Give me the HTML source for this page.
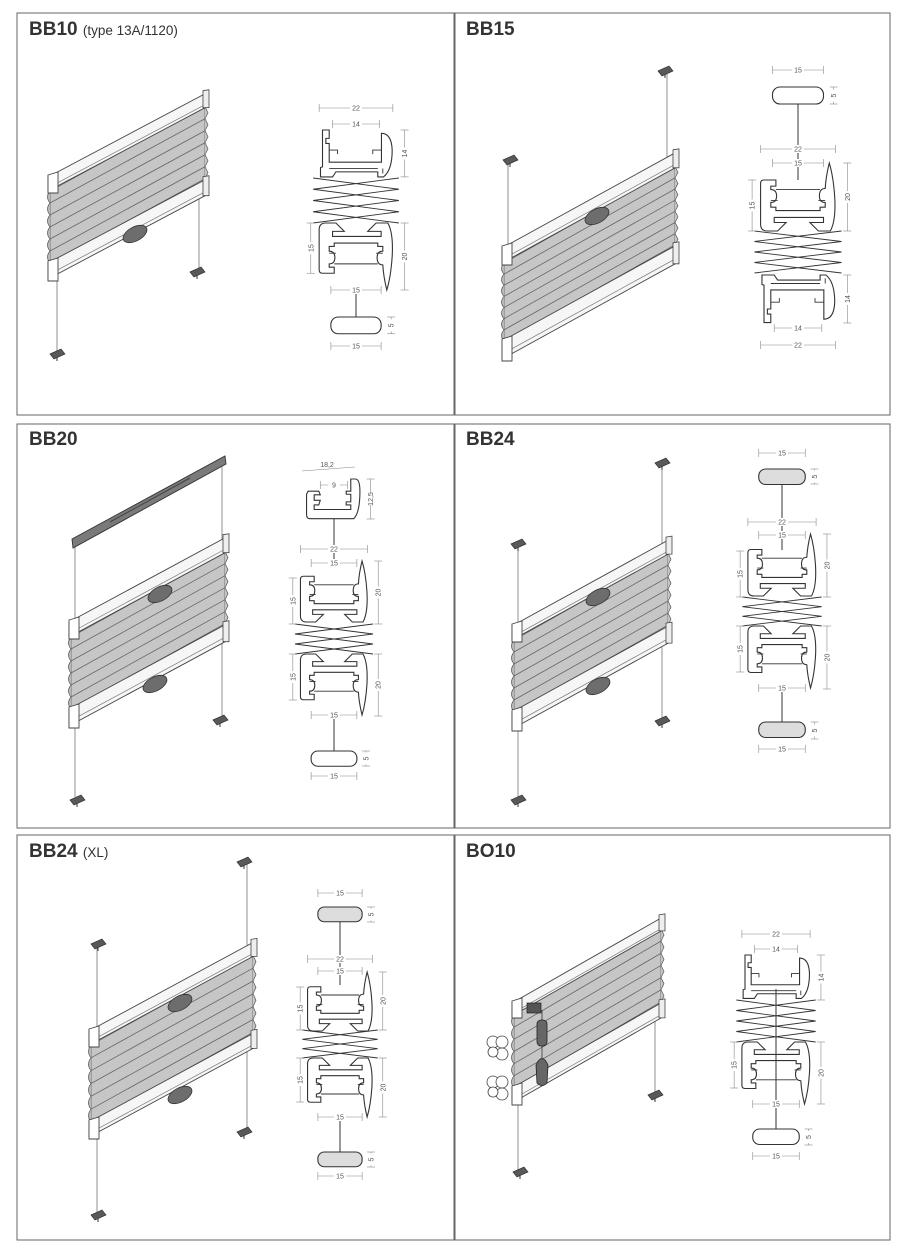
<!DOCTYPE html>
<html><head><meta charset="utf-8"><style>
html,body{margin:0;padding:0;background:#fff;}
#c{position:relative;width:903px;height:1252px;overflow:hidden;}
.t{position:absolute;font-family:"Liberation Sans",sans-serif;color:#333;font-weight:bold;font-size:19px;}
.t span{font-weight:normal;font-size:13.5px;}
svg{position:absolute;left:0;top:0;}
</style></head><body><div id="c">
<svg id="s" width="903" height="1252" viewBox="0 0 903 1252" xmlns="http://www.w3.org/2000/svg"></svg>
<div class="t" style="left:29px;top:19px">BB10 <span>(type 13A/1120)</span></div>
<div class="t" style="left:466px;top:19px">BB15</div>
<div class="t" style="left:29px;top:429px">BB20</div>
<div class="t" style="left:466px;top:429px">BB24</div>
<div class="t" style="left:29px;top:841px">BB24 <span>(XL)</span></div>
<div class="t" style="left:466px;top:841px">BO10</div>
</div>
<script>
var out=[];
function a(x){out.push(x);}
[[17,13,437,402],[455,13,435,402],[17,424,437,404],[455,424,435,404],[17,835,437,405],[455,835,435,405]].forEach(function(r){
a('<rect x="'+r[0]+'" y="'+r[1]+'" width="'+r[2]+'" height="'+r[3]+'" fill="none" stroke="#666" stroke-width="1"/>');});
function P(pts){return pts.map(function(p){return p[0].toFixed(1)+','+p[1].toFixed(1)}).join(' ');}
function rail(L,R,m,y,h,fill){var W=R-L;fill=fill||'#f6f6f6';
 a('<polygon points="'+P([[L,y],[R,y+m*W],[R,y+m*W+h],[L,y+h]])+'" fill="'+fill+'" stroke="#444" stroke-width="0.9"/>');
 a('<line x1="'+(L+6)+'" y1="'+(y+h*0.55)+'" x2="'+(R-2)+'" y2="'+(y+h*0.55+m*(W-8))+'" stroke="#777" stroke-width="0.7"/>');
 a('<polygon points="'+P([[L,y-2],[L+10,y-5],[L+10,y+h+2],[L,y+h+2]])+'" fill="#fff" stroke="#444" stroke-width="0.9"/>');
 a('<polygon points="'+P([[R-4,y+m*W-2],[R+2,y+m*W-3],[R+2,y+m*W+h+1],[R-4,y+m*W+h+1]])+'" fill="#eee" stroke="#444" stroke-width="0.8"/>');}
function fabric(L,R,m,y1,y2){var W=R-L;
 a('<polygon points="'+P([[L+2,y1],[R-2,y1+m*W],[R-2,y2+m*W],[L+2,y2]])+'" fill="#c6c6c6" stroke="#555" stroke-width="0.7"/>');
 var k=Math.max(2,Math.round((y2-y1)/12)),st=(y2-y1)/k,d='';
 for(var i=1;i<k;i++){var y=y1+st*i;a('<line x1="'+(L+2)+'" y1="'+y+'" x2="'+(R-2)+'" y2="'+(y+m*W)+'" stroke="#666" stroke-width="0.8"/>');}
 d='M'+(L+2)+','+y1;for(i=0;i<k;i++){d+=' Q'+(L-3)+','+(y1+st*(i+0.5))+' '+(L+2)+','+(y1+st*(i+1));}
 a('<path d="'+d+'" fill="#b8b8b8" stroke="#555" stroke-width="0.7"/>');
 d='M'+(R-2)+','+(y1+m*W);for(i=0;i<k;i++){d+=' L'+(R+1)+','+(y1+m*W+st*(i+0.5))+' L'+(R-2)+','+(y1+m*W+st*(i+1));}
 a('<path d="'+d+'" fill="#c6c6c6" stroke="#555" stroke-width="0.7"/>');}
function handle(x,y){a('<ellipse cx="'+x+'" cy="'+y+'" rx="13" ry="7" transform="rotate(-28 '+x+' '+y+')" fill="#6d6d6d" stroke="#333" stroke-width="0.8"/>');}
function clip(x,y){a('<polygon points="'+P([[x-7,y],[x+4,y-5],[x+8,y],[x-3,y+5]])+'" fill="#595959" stroke="#333" stroke-width="0.7"/><line x1="'+x+'" y1="'+(y+3)+'" x2="'+x+'" y2="'+(y+7)+'" stroke="#333"/>');}
function cord(x,y1,y2){a('<line x1="'+x+'" y1="'+y1+'" x2="'+x+'" y2="'+y2+'" stroke="#777" stroke-width="0.8"/>');}
var BOT='M -9 0 H -6 L -3.5 2.5 H -7 V 4 H 7.5 V 2.5 H 3.5 L 6 0 H 9.5 Q 11.2 3 10.8 10 Q 10.4 16 9.2 20 Q 8.2 16 8 12.5 Q 6.3 12.5 6.3 10.3 Q 6.3 8.4 8 8.4 V 7 H 6.5 V 6 H -6.5 V 7 H -8 V 8.4 Q -6.3 8.4 -6.3 10.3 Q -6.3 12.2 -8 12.2 V 13.2 H -6.5 V 15 H -10 Q -11 15 -11 14 V 2 Q -11 0 -9 0 Z';
var BOTD='M -6.5 12.2 H 6.5 M -8 9 H -6 M 6 9 H 8';
var CH='M -10 0 H -8 V 2.5 H -9 V 4 H -8 V 9.6 H 7.6 V 1 Q 10.6 1 10.8 6 Q 10.8 12 8.2 14 H 6.5 V 12.5 H -6 L -7 14 H -10.6 V 11.2 L -10 11 Z';
var CHD='M -8 6 H -5.5 V 7.2 M 7.6 6 H 5 V 7.2 M 8 11.5 V 13 M -8 11.5 H 6.5';
function prof(d,dd,cx,y,s,flip){var tr=flip?'translate('+cx+','+y+') scale('+s+','+(-s)+')':'translate('+cx+','+y+') scale('+s+')';
 a('<g transform="'+tr+'"><path d="'+d+'" fill="#fff" stroke="#333" stroke-width="1.1" vector-effect="non-scaling-stroke"/><path d="'+dd+'" fill="none" stroke="#333" stroke-width="0.9" vector-effect="non-scaling-stroke"/></g>');}
function bot(cx,y,s){prof(BOT,BOTD,cx,y,s,false);}
function botF(cx,y,s){prof(BOT,BOTD,cx,y+20*s,s,true);}
function ch(cx,y,s){prof(CH,CHD,cx,y,s,false);}
function chF(cx,y,s){prof(CH,CHD,cx,y+14*s,s,true);}
function zz(cx,y0,y1,s,n){var w=12.8*s,h=(y1-y0)/n,d='';
 for(var i=0;i<n;i++){var ya=y0+h*i,yb=ya+h;d+='M'+(cx-w)+','+ya+' L'+(cx+w)+','+yb+' M'+(cx+w)+','+ya+' L'+(cx-w)+','+yb+' ';}
 a('<path d="'+d+'" fill="none" stroke="#333" stroke-width="0.9"/>');}
function cap(cx,y,s,fill){a('<rect x="'+(cx-7.5*s)+'" y="'+y+'" width="'+(15*s)+'" height="'+(5*s)+'" rx="'+(2.2*s)+'" fill="'+(fill||'#fff')+'" stroke="#333" stroke-width="1.1"/>');}
function vl(x,y1,y2){a('<line x1="'+x+'" y1="'+y1+'" x2="'+x+'" y2="'+y2+'" stroke="#333" stroke-width="1"/>');}
function txt(x,y,t,rot){a('<text x="'+x+'" y="'+y+'" font-family="Liberation Sans,sans-serif" font-size="7" fill="#555" text-anchor="middle"'+(rot?' transform="rotate(-90 '+x+' '+y+')"':'')+'>'+t+'</text>');}
function dH(x1,x2,y,t){a('<line x1="'+x1+'" y1="'+y+'" x2="'+x2+'" y2="'+y+'" stroke="#888" stroke-width="0.6"/><line x1="'+x1+'" y1="'+(y-4)+'" x2="'+x1+'" y2="'+(y+4)+'" stroke="#888" stroke-width="0.6"/><line x1="'+x2+'" y1="'+(y-4)+'" x2="'+x2+'" y2="'+(y+4)+'" stroke="#888" stroke-width="0.6"/>');
 var m=(x1+x2)/2;a('<rect x="'+(m-6)+'" y="'+(y-4)+'" width="12" height="8" fill="#fff"/>');txt(m,y+2.5,t);}
function dV(x,y1,y2,t){a('<line x1="'+x+'" y1="'+y1+'" x2="'+x+'" y2="'+y2+'" stroke="#888" stroke-width="0.6"/><line x1="'+(x-4)+'" y1="'+y1+'" x2="'+(x+4)+'" y2="'+y1+'" stroke="#888" stroke-width="0.6"/><line x1="'+(x-4)+'" y1="'+y2+'" x2="'+(x+4)+'" y2="'+y2+'" stroke="#888" stroke-width="0.6"/>');
 var m=(y1+y2)/2;a('<rect x="'+(x-4)+'" y="'+(m-6)+'" width="8" height="12" fill="#fff"/>');txt(x+2.5,m,t,true);}

(function(){var L=48,R=207,m=-0.53;
 cord(199,190,272);cord(57,280,352);
 fabric(L,R,m,191,263);rail(L,R,m,177,14);rail(L,R,m,263,16);handle(135,234);clip(197,272);clip(57,354);
 var cx=356,s=3.35;ch(cx,130,s);zz(cx,178,223,s,4);bot(cx,223,s);vl(cx,290,317);cap(cx,317,s);
 dH(cx-11*s,cx+11*s,108,'22');dH(cx-7*s,cx+7*s,124,'14');dV(cx+14.5*s,130,130+14*s,'14');
 dV(cx-13.5*s,223,223+15*s,'15');dV(cx+14.5*s,223,223+20*s,'20');dH(cx-7.5*s,cx+7.5*s,290,'15');
 dV(cx+10.5*s,317,317+5*s,'5');dH(cx-7.5*s,cx+7.5*s,346,'15');})();
(function(){var L=502,R=677,m=-0.55;
 cord(508,160,250);cord(667,71,162);
 fabric(L,R,m,263,341);rail(L,R,m,248,15);rail(L,R,m,341,18);handle(597,216);clip(510,160);clip(665,71);
 var cx=798,s=3.4;cap(cx,87,s);vl(cx,104,180);botF(cx,163,s);zz(cx,231,273,s,4);chF(cx,275,s);
 dH(cx-7.5*s,cx+7.5*s,70,'15');dV(cx+10.5*s,87,87+5*s,'5');dH(cx-11*s,cx+11*s,149,'22');dH(cx-7.5*s,cx+7.5*s,163,'15');
 dV(cx-13.5*s,180,231,'15');dV(cx+14.5*s,163,231,'20');dV(cx+14.5*s,275,323,'14');dH(cx-7*s,cx+7*s,328,'14');dH(cx-11*s,cx+11*s,345,'22');})();
(function(){var L=69,R=227,m=-0.54;
 cord(75,547,797);cord(222,464,717);
 a('<polygon points="'+P([[72,539],[225,456],[226,464],[73,548]])+'" fill="#7a7a7a" stroke="#333" stroke-width="0.9"/>');
 a('<line x1="110" y1="522" x2="190" y2="478" stroke="#444" stroke-width="1"/>');
 fabric(L,R,m,637,709);rail(L,R,m,622,15);rail(L,R,m,709,17);handle(160,594);handle(155,684);clip(77,800);clip(220,720);
 var cx=334,s=3.05;
 a('<g transform="translate('+cx+',479) scale(3.05)"><path d="M -8.5 4 H -5 L -4.5 5.2 H -6.5 V 7 H -4.5 L -5 8.5 H -6.5 V 10 H 5.5 V 8.5 H 4 V 7.5 H 5.5 V 5 H 4 V 4 H 5.5 V 0 H 7 Q 8.5 0 8.5 4 Q 8.5 11 6.5 13 H -8 Q -9 13 -9 11.5 V 5 Z" fill="#fff" stroke="#333" stroke-width="1.1" vector-effect="non-scaling-stroke"/></g>');
 vl(cx,519,561);botF(cx,561,s);zz(cx,624,654,s,3);bot(cx,654,s);vl(cx,716,751);cap(cx,751,s);
 a('<line x1="302" y1="471" x2="355" y2="467" stroke="#888" stroke-width="0.6"/>');txt(327,467,'18,2');
 dH(cx-4.5*s,cx+4.5*s,485,'9');dV(cx+12*s,479,519,'12,5');
 dH(cx-11*s,cx+11*s,549,'22');dH(cx-7.5*s,cx+7.5*s,563,'15');dV(cx-13.5*s,578,624,'15');dV(cx+14.5*s,561,624,'20');
 dV(cx-13.5*s,654,700,'15');dV(cx+14.5*s,654,716,'20');dH(cx-7.5*s,cx+7.5*s,715,'15');dV(cx+10.5*s,751,766,'5');dH(cx-7.5*s,cx+7.5*s,776,'15');})();
(function(){var L=512,R=670,m=-0.55;
 cord(518,544,800);cord(662,463,722);
 fabric(L,R,m,640,712);rail(L,R,m,626,14);rail(L,R,m,712,17);handle(598,597);handle(598,686);
 clip(518,544);clip(662,463);clip(662,721);clip(518,800);
 var cx=782,s=3.1;cap(cx,469,s,'#ddd');vl(cx,484,550);botF(cx,534,s);zz(cx,597,626,s,3);bot(cx,626,s);vl(cx,689,722);cap(cx,722,s,'#ddd');
 dH(cx-7.5*s,cx+7.5*s,453,'15');dV(cx+10.5*s,469,484,'5');dH(cx-11*s,cx+11*s,522,'22');dH(cx-7.5*s,cx+7.5*s,535,'15');
 dV(cx-13.5*s,551,597,'15');dV(cx+14.5*s,534,597,'20');dV(cx-13.5*s,626,672,'15');dV(cx+14.5*s,626,689,'20');
 dH(cx-7.5*s,cx+7.5*s,688,'15');dV(cx+10.5*s,722,739,'5');dH(cx-7.5*s,cx+7.5*s,749,'15');})();
(function(){var L=89,R=255,m=-0.54;
 cord(97,945,1215);cord(247,862,1132);
 fabric(L,R,m,1045,1122);rail(L,R,m,1031,14);rail(L,R,m,1122,15);handle(180,1003);handle(180,1095);
 clip(98,944);clip(244,862);clip(244,1132);clip(98,1215);
 var cx=340,s=2.95;cap(cx,907,s,'#ddd');vl(cx,922,985);botF(cx,972,s);zz(cx,1030,1058,s,3);bot(cx,1058,s);vl(cx,1120,1152);cap(cx,1152,s,'#ddd');
 dH(cx-7.5*s,cx+7.5*s,893,'15');dV(cx+10.5*s,907,922,'5');dH(cx-11*s,cx+11*s,959,'22');dH(cx-7.5*s,cx+7.5*s,971,'15');
 dV(cx-13.5*s,987,1030,'15');dV(cx+14.5*s,972,1030,'20');dV(cx-13.5*s,1058,1102,'15');dV(cx+14.5*s,1058,1117,'20');
 dH(cx-7.5*s,cx+7.5*s,1117,'15');dV(cx+10.5*s,1152,1167,'5');dH(cx-7.5*s,cx+7.5*s,1176,'15');})();
(function(){var L=512,R=663,m=-0.57;
 cord(655,1020,1095);cord(518,1103,1172);
 fabric(L,R,m,1015,1088);rail(L,R,m,1003,13);rail(L,R,m,1088,15);
 a('<rect x="527" y="1003" width="14" height="10" fill="#555" stroke="#222" stroke-width="0.7"/>');
 a('<line x1="542" y1="1010" x2="542" y2="1080" stroke="#333" stroke-width="0.8"/>');
 a('<rect x="537" y="1020" width="10" height="26" rx="4" fill="#666" stroke="#222" stroke-width="0.8"/>');
 a('<path d="M536,1065 Q542,1052 548,1065 L547,1083 Q542,1088 537,1083 Z" fill="#666" stroke="#222" stroke-width="0.8"/>');
 [[498,1048],[498,1088]].forEach(function(p){var x=p[0],y=p[1];
  a('<circle cx="'+(x-5)+'" cy="'+(y-6)+'" r="6" fill="#fff" stroke="#444" stroke-width="0.8"/><circle cx="'+(x+4)+'" cy="'+(y-6)+'" r="6" fill="#fff" stroke="#444" stroke-width="0.8"/><circle cx="'+(x+4)+'" cy="'+(y+6)+'" r="6" fill="#fff" stroke="#444" stroke-width="0.8"/><circle cx="'+(x-5)+'" cy="'+(y+4)+'" r="5" fill="#fff" stroke="#444" stroke-width="0.8"/>');});
 clip(655,1095);clip(520,1172);
 var cx=776,s=3.1;ch(cx,955,s);zz(cx,1000,1042,s,4);bot(cx,1042,s);vl(cx,989,1129);cap(cx,1129,s);
 dH(cx-11*s,cx+11*s,934,'22');dH(cx-7*s,cx+7*s,949,'14');dV(cx+14.5*s,955,1000,'14');
 dV(cx-13.5*s,1042,1088,'15');dV(cx+14.5*s,1042,1104,'20');dH(cx-7.5*s,cx+7.5*s,1104,'15');
 dV(cx+10.5*s,1129,1145,'5');dH(cx-7.5*s,cx+7.5*s,1156,'15');})();
document.getElementById('s').innerHTML=out.join('');
</script>
</body></html>
